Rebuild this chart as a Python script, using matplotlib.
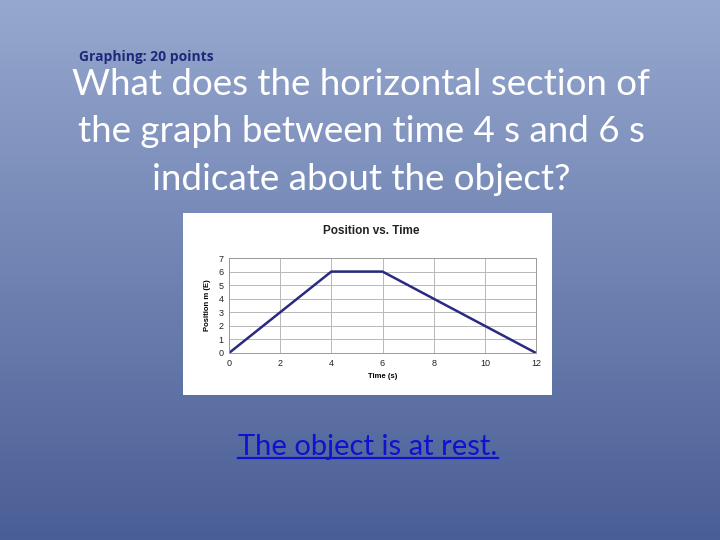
import numpy as np
import matplotlib
matplotlib.use("Agg")
import matplotlib.pyplot as plt
from matplotlib.patches import Rectangle
from matplotlib.lines import Line2D

# chart data
time_s = [0, 4, 6, 12]
position_m = [0, 6, 6, 0]
x_ticks = [0, 2, 4, 6, 8, 10, 12]
y_ticks = [0, 1, 2, 3, 4, 5, 6, 7]

header = "Graphing: 20 points"
question = "What does the horizontal section of\nthe graph between time 4 s and 6 s\nindicate about the object?"
answer = "The object is at rest."

W, H = 720, 540


def px(x, y):
    """pixel coords (top-left origin) -> figure fraction"""
    return x / W, 1 - y / H


fig = plt.figure(figsize=(7.2, 5.4), dpi=100)

# slide background gradient
bg = fig.add_axes([0, 0, 1, 1])
top = np.array([150, 168, 206]) / 255
bottom = np.array([74, 94, 150]) / 255
t = np.linspace(0, 1, 256)[:, None, None]
grad = top * (1 - t) + bottom * t
grad = np.repeat(grad, 2, axis=1)
bg.imshow(grad, aspect="auto", extent=[0, 1, 0, 1], origin="upper")
bg.set_xlim(0, 1)
bg.set_ylim(0, 1)
bg.axis("off")

# slide texts
fig.text(*px(79, 57), header, ha="left", va="center", fontsize=10,
         fontweight="bold", color="#1b2a7a", family="Open Sans")
fig.text(*px(361, 132), question, ha="center", va="center", fontsize=26.5,
         color="white", family="Lato", linespacing=1.55)
ans = fig.text(*px(368, 447), answer, ha="center", va="center", fontsize=21,
               color="#1010d0", family="Lato")

# white picture frame of the chart
x0, y0 = px(183, 395)
x1, y1 = px(552, 213)
fig.patches.append(Rectangle((x0, y0), x1 - x0, y1 - y0, transform=fig.transFigure,
                             facecolor="white", edgecolor="none", zorder=1))

l, b = px(229, 353)
r, tp = px(536, 258)
ax = fig.add_axes([l, b, r - l, tp - b], zorder=2)
ax.plot(time_s, position_m, color="#2a2a80", linewidth=1.8, solid_joinstyle="miter")
ax.set_xlim(0, 12)
ax.set_ylim(0, 7)
ax.set_xticks(x_ticks)
ax.set_yticks(y_ticks)
ax.grid(True, color="#b8b8b8", linewidth=0.7)
ax.tick_params(length=0, labelsize=6.5, pad=4, colors="#222222")
for s in ax.spines.values():
    s.set_color("#9a9a9a")
    s.set_linewidth(0.7)
for lab in ax.get_xticklabels() + ax.get_yticklabels():
    lab.set_family("Liberation Sans")
ax.set_xlabel("Time (s)", fontsize=5.5, fontweight="bold", family="Liberation Sans",
              labelpad=4)
ax.set_ylabel("Position m (E)", fontsize=5.5, fontweight="bold", family="Liberation Sans",
              labelpad=5)
fig.text(*px(371, 231), "Position vs. Time", ha="center", va="center", fontsize=8.5,
         fontweight="bold", family="Liberation Sans", color="#222222", zorder=3)

# underline for the answer
fig.canvas.draw()
bb = ans.get_window_extent().transformed(fig.transFigure.inverted())
uy = bb.y0 + 0.004
fig.lines.append(Line2D([bb.x0, bb.x1], [uy, uy], transform=fig.transFigure,
                        color="#1010d0", linewidth=1.6))

fig.savefig("out.png", dpi=100)
